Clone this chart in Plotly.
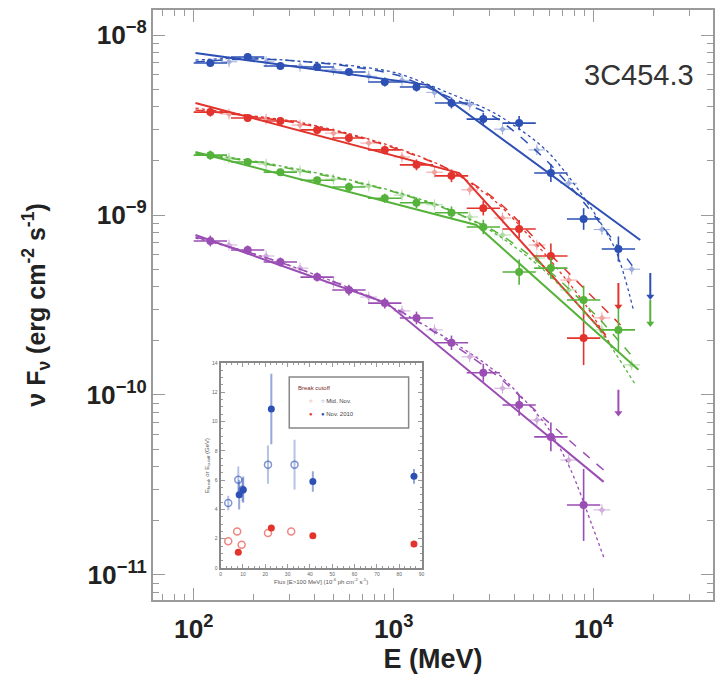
import numpy as np
import plotly.graph_objects as go

# ---------------- main SED data (E in MeV, nuFnu in erg cm^-2 s^-1) ----------------
E_main = [121, 186, 271, 414, 597, 902, 1300, 1945, 2806, 4240, 6110, 8910, 13300]

blue_F = [6.99e-9, 7.55e-9, 6.73e-9, 6.64e-9, 6.23e-9, 5.48e-9, 5.14e-9, 4.19e-9,
          3.41e-9, 3.24e-9, 1.71e-9, 9.50e-10, 6.47e-10]
red_F = [3.73e-9, 3.46e-9, 3.33e-9, 2.97e-9, 2.68e-9, 2.30e-9, 1.90e-9, 1.65e-9,
         1.09e-9, 8.36e-10, 5.92e-10, 2.07e-10]
green_F = [2.15e-9, 1.97e-9, 1.73e-9, 1.56e-9, 1.43e-9, 1.24e-9, 1.17e-9, 1.03e-9,
           8.58e-10, 4.82e-10, 5.07e-10, 3.37e-10, 2.30e-10]
purple_F = [7.17e-10, 6.39e-10, 5.48e-10, 4.52e-10, 3.83e-10, 3.24e-10, 2.68e-10,
            1.95e-10, 1.33e-10, 8.80e-11, 5.85e-11, 2.45e-11]

# symmetric flux uncertainties in dex
blue_err = [0.02, 0.02, 0.02, 0.02, 0.02, 0.025, 0.025, 0.03, 0.035, 0.04, 0.05, 0.06, 0.07]
red_err = [0.025, 0.02, 0.02, 0.02, 0.025, 0.025, 0.03, 0.035, 0.04, 0.05, 0.07, 0.15]
green_err = [0.025, 0.02, 0.02, 0.02, 0.025, 0.025, 0.03, 0.035, 0.04, 0.07, 0.06, 0.08, 0.12]
purple_err = [0.03, 0.025, 0.025, 0.025, 0.03, 0.03, 0.035, 0.04, 0.05, 0.06, 0.08, 0.2]

# finer-binned spectra
E_fine = [150, 230, 340, 500, 750, 1100, 1600, 2400, 3500, 5200, 7500, 11000, 15500]
blue_fine = [7.1e-9, 7.1e-9, 6.7e-9, 6.4e-9, 5.9e-9, 5.6e-9, 4.8e-9, 4.1e-9, 3.0e-9,
             2.3e-9, 1.5e-9, 8.3e-10, 5.0e-10]
red_fine = [3.64e-9, 3.41e-9, 3.16e-9, 2.85e-9, 2.51e-9, 2.10e-9, 1.73e-9, 1.38e-9,
            9.62e-10, 6.81e-10, 4.35e-10, 2.68e-10]
green_fine = [2.07e-9, 1.92e-9, 1.76e-9, 1.58e-9, 1.45e-9, 1.29e-9, 1.14e-9, 9.75e-10,
              7.74e-10, 5.77e-10, 3.83e-10, 2.30e-10, 1.47e-10]
purple_fine = [6.81e-10, 5.92e-10, 5.07e-10, 4.19e-10, 3.50e-10, 2.93e-10, 2.30e-10,
               1.63e-10, 1.09e-10, 7.26e-11, 4.35e-11, 2.30e-11]

# upper limits (E, nuFnu)
ul_E = {"blue": 19200, "green": 19200, "red": 13300, "purple": 13300}
ul_F = {"blue": 4.76e-10, "green": 3.37e-10, "red": 4.19e-10, "purple": 1.07e-10}

# fitted models: broken power law (solid), log-parabola (dashed), cutoff power law (dotted)
bpl_E = {"blue": [102, 1493, 17100], "red": [102, 2129, 11480],
         "green": [102, 2588, 16750], "purple": [102, 923, 11220]}
bpl_F = {"blue": [7.94e-9, 5.27e-9, 7.26e-10], "red": [4.19e-9, 1.71e-9, 2.15e-10],
         "green": [2.24e-9, 8.80e-10, 1.38e-10], "purple": [7.74e-10, 3.24e-10, 3.29e-11]}

lp_E = {"blue": [102, 186, 329, 584, 1035, 1835, 3253, 5770, 9125, 13630, 16180],
        "red": [102, 186, 329, 584, 1035, 1835, 3253, 5770, 9125, 13630],
        "green": [102, 186, 329, 584, 1035, 1835, 3253, 5770, 10230, 16180],
        "purple": [102, 186, 329, 584, 1035, 1835, 3253, 5770, 11220]}
lp_F = {"blue": [7.08e-9, 7.36e-9, 7.17e-9, 6.73e-9, 5.99e-9, 4.58e-9, 3.46e-9, 2.02e-9,
                 1.14e-9, 6.39e-10, 4.95e-10],
        "red": [3.83e-9, 3.55e-9, 3.24e-9, 2.82e-9, 2.33e-9, 1.82e-9, 1.21e-9, 6.39e-10,
                3.83e-10, 2.45e-10],
        "green": [2.18e-9, 2.00e-9, 1.78e-9, 1.56e-9, 1.33e-9, 1.08e-9, 8.04e-10, 5.07e-10,
                  2.78e-10, 1.56e-10],
        "purple": [7.55e-10, 6.23e-10, 5.07e-10, 3.98e-10, 3.00e-10, 2.02e-10, 1.29e-10,
                   7.26e-11, 3.83e-11]}

pc_E = {"blue": [102, 186, 329, 584, 1035, 1835, 3253, 5770, 9125, 12870, 15810],
        "red": [102, 186, 329, 584, 1035, 1835, 3253, 5770, 9125, 12150],
        "green": [102, 186, 329, 584, 1035, 1835, 3253, 5770, 10230, 16180],
        "purple": [102, 186, 329, 584, 1035, 1835, 3253, 5770, 7686, 9886, 11220]}
pc_F = {"blue": [7.26e-9, 7.45e-9, 7.17e-9, 6.81e-9, 6.15e-9, 4.82e-9, 3.64e-9, 2.30e-9,
                 1.21e-9, 6.39e-10, 2.97e-10],
        "red": [3.93e-9, 3.59e-9, 3.29e-9, 2.85e-9, 2.36e-9, 1.82e-9, 1.18e-9, 5.99e-10,
                3.16e-10, 1.90e-10],
        "green": [2.21e-9, 2.02e-9, 1.80e-9, 1.58e-9, 1.34e-9, 1.09e-9, 7.84e-10, 4.82e-10,
                  2.45e-10, 1.14e-10],
        "purple": [7.45e-10, 6.23e-10, 5.07e-10, 3.98e-10, 2.97e-10, 2.07e-10, 1.34e-10,
                   6.81e-11, 3.83e-11, 1.85e-11, 1.26e-11]}

# ---------------- inset: break / cutoff energy vs flux ----------------
brk_open_x = [3.4, 7.4, 9.4, 21.2, 31.6]
brk_open_y = [1.82, 2.5, 1.59, 2.39, 2.5]
brk_fill_x = [7.9, 22.7, 41.3, 86.6]
brk_fill_y = [1.07, 2.73, 2.21, 1.64]
cut_open_x = [3.4, 7.9, 9.8, 21.2, 33.1]
cut_open_y = [4.44, 6.03, 5.35, 7.06, 7.06]
cut_open_err = [0.5, 0.9, 0.8, 1.3, 1.7]
cut_fill_x = [8.3, 10.1, 22.7, 41.3, 86.6]
cut_fill_y = [5.0, 5.35, 10.86, 5.9, 6.26]
cut_fill_err = [1.0, 0.9, 2.4, 0.7, 0.5]

COLORS = {"blue": "#2d50b4", "red": "#e2332c", "green": "#55b23a", "purple": "#9a4db3"}
main_sets = {"blue": (blue_F, blue_err), "red": (red_F, red_err),
             "green": (green_F, green_err), "purple": (purple_F, purple_err)}
fine_sets = {"blue": blue_fine, "red": red_fine, "green": green_fine, "purple": purple_fine}

HALF_BIN = 10 ** (1 / 12)  # half of a 1/6-decade energy bin

fig = go.Figure()

for name, col in COLORS.items():
    # model curves
    fig.add_trace(go.Scatter(x=bpl_E[name], y=bpl_F[name], mode="lines",
                             line=dict(color=col, width=2), showlegend=False))
    fig.add_trace(go.Scatter(x=lp_E[name], y=lp_F[name], mode="lines",
                             line=dict(color=col, width=1.5, dash="dash", shape="spline",
                                       smoothing=0.8),
                             showlegend=False))
    fig.add_trace(go.Scatter(x=pc_E[name], y=pc_F[name], mode="lines",
                             line=dict(color=col, width=1.3, dash="dot", shape="spline",
                                       smoothing=0.8),
                             showlegend=False))

    # fine-binned points
    ff = np.array(fine_sets[name])
    fe = np.array(E_fine[:len(ff)], dtype=float)
    fig.add_trace(go.Scatter(
        x=fe, y=ff, mode="markers", opacity=0.45,
        marker=dict(color=col, size=5, symbol="diamond"),
        error_x=dict(type="data", symmetric=False, array=fe * (10 ** (1 / 24) - 1),
                     arrayminus=fe * (1 - 10 ** (-1 / 24)), color=col, thickness=1, width=0),
        error_y=dict(type="data", symmetric=False, array=ff * (10 ** 0.03 - 1),
                     arrayminus=ff * (1 - 10 ** -0.03), color=col, thickness=1, width=0),
        showlegend=False))

    # main points
    F, err = main_sets[name]
    F = np.array(F)
    err = np.array(err)
    E = np.array(E_main[:len(F)], dtype=float)
    fig.add_trace(go.Scatter(
        x=E, y=F, mode="markers",
        marker=dict(color=col, size=8, symbol="circle"),
        error_x=dict(type="data", symmetric=False, array=E * (HALF_BIN - 1),
                     arrayminus=E * (1 - 1 / HALF_BIN), color=col, thickness=1.6, width=0),
        error_y=dict(type="data", symmetric=False, array=F * (10 ** err - 1),
                     arrayminus=F * (1 - 10 ** -err), color=col, thickness=1.6, width=0),
        showlegend=False))

    # upper limit arrow
    top = ul_F[name]
    bottom = top * 10 ** -0.13
    fig.add_trace(go.Scatter(
        x=[ul_E[name]], y=[bottom], mode="markers",
        marker=dict(color=col, size=7, symbol="triangle-down"),
        error_y=dict(type="data", symmetric=False, array=[top - bottom], arrayminus=[0],
                     color=col, thickness=2, width=0),
        showlegend=False))

# inset traces
RED, BLUE = COLORS["red"], COLORS["blue"]
fig.add_trace(go.Scatter(x=cut_open_x, y=cut_open_y, mode="markers", xaxis="x2", yaxis="y2",
                         marker=dict(symbol="circle-open", color=BLUE, size=7, opacity=0.6,
                                     line=dict(width=1.5)),
                         error_y=dict(type="data", array=cut_open_err, color="rgba(45,80,180,0.35)",
                                      thickness=2, width=0), showlegend=False))
fig.add_trace(go.Scatter(x=cut_fill_x, y=cut_fill_y, mode="markers", xaxis="x2", yaxis="y2",
                         marker=dict(symbol="circle", color=BLUE, size=7),
                         error_y=dict(type="data", array=cut_fill_err, color="rgba(45,80,180,0.5)",
                                      thickness=2, width=0), showlegend=False))
fig.add_trace(go.Scatter(x=brk_open_x, y=brk_open_y, mode="markers", xaxis="x2", yaxis="y2",
                         marker=dict(symbol="circle-open", color=RED, size=7, opacity=0.6,
                                     line=dict(width=1.5)), showlegend=False))
fig.add_trace(go.Scatter(x=brk_fill_x, y=brk_fill_y, mode="markers", xaxis="x2", yaxis="y2",
                         marker=dict(symbol="circle", color=RED, size=7), showlegend=False))

FRAME = "#9a9a9a"
TICKFONT = dict(family="Liberation Sans, Arial", size=21, color="#222", weight="bold")

fig.update_layout(
    width=717, height=677,
    margin=dict(l=153, r=1, t=10, b=77),
    paper_bgcolor="white", plot_bgcolor="white",
    xaxis=dict(type="log", range=[1.796, 4.597], dtick=1, exponentformat="power",
               showgrid=False, zeroline=False, showline=True, linecolor=FRAME, linewidth=2,
               mirror="ticks", ticks="inside", ticklen=12, tickcolor=FRAME, tickwidth=1,
               minor=dict(ticks="inside", ticklen=6, tickcolor=FRAME, dtick="D1", showgrid=False),
               tickfont=TICKFONT, ticklabelstandoff=6,
               title=dict(text="E (MeV)", standoff=0,
                          font=dict(family="Liberation Sans, Arial", size=27, color="#222",
                                    weight="bold"))),
    yaxis=dict(type="log", range=[-11.139, -7.861], dtick=1, exponentformat="power",
               showgrid=False, zeroline=False, showline=True, linecolor=FRAME, linewidth=2,
               mirror="ticks", ticks="inside", ticklen=12, tickcolor=FRAME, tickwidth=1,
               minor=dict(ticks="inside", ticklen=6, tickcolor=FRAME, dtick="D1", showgrid=False),
               tickfont=TICKFONT,
               title=dict(text="ν F<sub>ν</sub> (erg cm<sup>-2</sup> s<sup>-1</sup>)", standoff=34,
                          font=dict(family="Liberation Sans, Arial", size=25, color="#222",
                                    weight="bold"))),
    xaxis2=dict(domain=[0.1208, 0.4796], anchor="y2", range=[0, 90], dtick=10,
                showgrid=False, zeroline=False, showline=True, linecolor="#888", linewidth=2,
                mirror="ticks", ticks="inside", ticklen=4, tickcolor=FRAME,
                minor=dict(ticks="inside", ticklen=2, tickcolor=FRAME, dtick=2.5),
                tickfont=dict(family="Liberation Sans, Arial", size=5, color="#666"),
                title=dict(text="Flux [E>100 MeV] (10<sup>-6</sup> ph cm<sup>-2</sup> s<sup>-1</sup>)",
                           standoff=2,
                           font=dict(family="Liberation Sans, Arial", size=6, color="#555"))),
    yaxis2=dict(domain=[0.0542, 0.4017], anchor="x2", range=[0, 14], dtick=2,
                showgrid=False, zeroline=False, showline=True, linecolor="#888", linewidth=2,
                mirror="ticks", ticks="inside", ticklen=4, tickcolor=FRAME,
                minor=dict(ticks="inside", ticklen=2, tickcolor=FRAME, dtick=0.5),
                tickfont=dict(family="Liberation Sans, Arial", size=5, color="#666"),
                title=dict(text="E<sub>break</sub> or E<sub>cutoff</sub> (GeV)", standoff=2,
                           font=dict(family="Liberation Sans, Arial", size=6, color="#555"))),
    showlegend=False,
)

# white panel behind the inset, and inset legend box
fig.add_shape(type="rect", xref="paper", yref="paper", x0=0.1208, x1=0.4796, y0=0.0542, y1=0.4017,
              fillcolor="white", line=dict(width=0), layer="below")
fig.add_shape(type="rect", xref="paper", yref="paper", x0=0.2433, x1=0.4565, y0=0.2915, y1=0.378,
              fillcolor="white", line=dict(color="#888", width=1.5))

LEG_FONT = dict(family="Liberation Sans, Arial", size=6, color="#444")
fig.add_annotation(xref="paper", yref="paper", x=0.255, y=0.36, xanchor="left", yanchor="middle",
                   text="Break cutoff", showarrow=False,
                   font=dict(family="Liberation Sans, Arial", size=6, color="#7a2a2a"))
fig.add_annotation(xref="paper", yref="paper", x=0.275, y=0.338, xanchor="left", yanchor="middle",
                   text=f"<span style='color:{RED}'>○</span>     <span style='color:{BLUE}'>○</span> Mid. Nov.",
                   showarrow=False, font=LEG_FONT)
fig.add_annotation(xref="paper", yref="paper", x=0.275, y=0.315, xanchor="left", yanchor="middle",
                   text=f"<span style='color:{RED}'>●</span>     <span style='color:{BLUE}'>●</span> Nov. 2010",
                   showarrow=False, font=LEG_FONT)

# source name
fig.add_annotation(xref="paper", yref="paper", x=0.867, y=0.89, xanchor="center", yanchor="middle",
                   text="3C454.3", showarrow=False,
                   font=dict(family="Liberation Sans, Arial", size=29, color="#333"))

fig.write_html("out.html")
